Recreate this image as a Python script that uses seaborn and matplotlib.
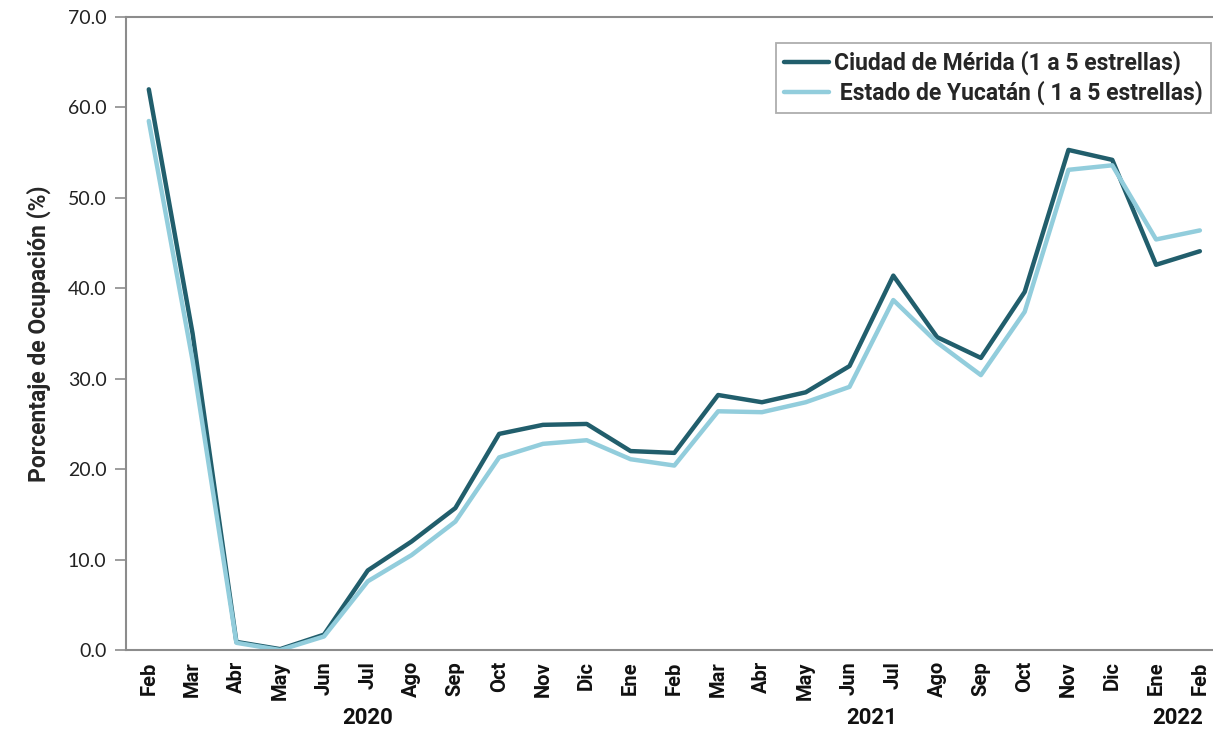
import matplotlib
matplotlib.use("Agg")
import matplotlib.pyplot as plt
import matplotlib.transforms as mtransforms
import pandas as pd
import seaborn as sns

months = ["Feb", "Mar", "Abr", "May", "Jun", "Jul", "Ago", "Sep", "Oct", "Nov", "Dic",
          "Ene", "Feb", "Mar", "Abr", "May", "Jun", "Jul", "Ago", "Sep", "Oct", "Nov", "Dic",
          "Ene", "Feb"]
merida = [62.0, 35.0, 0.9, 0.1, 1.7, 8.8, 12.0, 15.7, 23.9, 24.9, 25.0,
          22.0, 21.8, 28.2, 27.4, 28.5, 31.4, 41.4, 34.6, 32.3, 39.6, 55.3, 54.2,
          42.6, 44.1]
yucatan = [58.5, 32.0, 0.8, 0.0, 1.5, 7.6, 10.5, 14.2, 21.3, 22.8, 23.2,
           21.1, 20.4, 26.4, 26.3, 27.4, 29.1, 38.7, 34.0, 30.4, 37.4, 53.1, 53.6,
           45.4, 46.4]
years = ["2020", "2021", "2022"]
year_centers = [5.0, 16.5, 23.5]

label_m = "Ciudad de Mérida (1 a 5 estrellas)"
label_y = " Estado de Yucatán ( 1 a 5 estrellas)"

df = pd.DataFrame({
    "idx": list(range(len(months))) * 2,
    "valor": merida + yucatan,
    "serie": [label_m] * len(months) + [label_y] * len(months),
})

sns.set_theme(style="white")
plt.rcParams["font.family"] = ["Roboto", "DejaVu Sans"]

fig = plt.figure(figsize=(12.13, 7.35), dpi=100)
ax = fig.add_axes([0.1039, 0.1156, 0.8961, 0.8613])

sns.lineplot(
    data=df, x="idx", y="valor", hue="serie", sort=False,
    palette={label_m: "#215E6C", label_y: "#92CDDC"},
    linewidth=3.2, ax=ax,
)

ax.set_xlim(-0.52, 24.3)
ax.set_ylim(0, 70)
ax.set_yticks(range(0, 71, 10))
ax.set_yticklabels([f"{v:.1f}" for v in range(0, 71, 10)], fontsize=14,
                   color="#222222", family=["Lato", "DejaVu Sans"])
ax.set_xticks(range(len(months)))
ax.set_xticklabels(months, rotation=90, fontsize=14.5, fontweight="bold", color="#111111")
ax.tick_params(axis="y", length=8, color="#8c8c8c", width=1.2, direction="out", left=True, pad=6)
ax.tick_params(axis="x", length=0, pad=8)

for side in ["left", "bottom", "top"]:
    ax.spines[side].set_color("#8c8c8c")
    ax.spines[side].set_linewidth(1.5)
ax.spines["right"].set_visible(False)

ax.set_xlabel("")
ax.set_ylabel("Porcentaje de Ocupación (%)", fontsize=16.5, fontweight="bold", labelpad=12)

trans = mtransforms.blended_transform_factory(ax.transData, fig.transFigure)
for yr, xc in zip(years, year_centers):
    ax.text(xc, 0.008, yr, transform=trans, ha="center", va="bottom",
            fontsize=16, fontweight="bold", color="#111111")

leg = ax.legend(loc="upper right", bbox_to_anchor=(1.0, 0.963), frameon=True, fancybox=False,
                fontsize=16.5, handlelength=2.0, borderpad=0.35, labelspacing=0.25,
                handletextpad=0.2, borderaxespad=0.1)
leg.get_frame().set_edgecolor("#999999")
leg.get_frame().set_linewidth(1.3)
for t in leg.get_texts():
    t.set_fontweight("bold")

fig.savefig("out.png", dpi=100)
